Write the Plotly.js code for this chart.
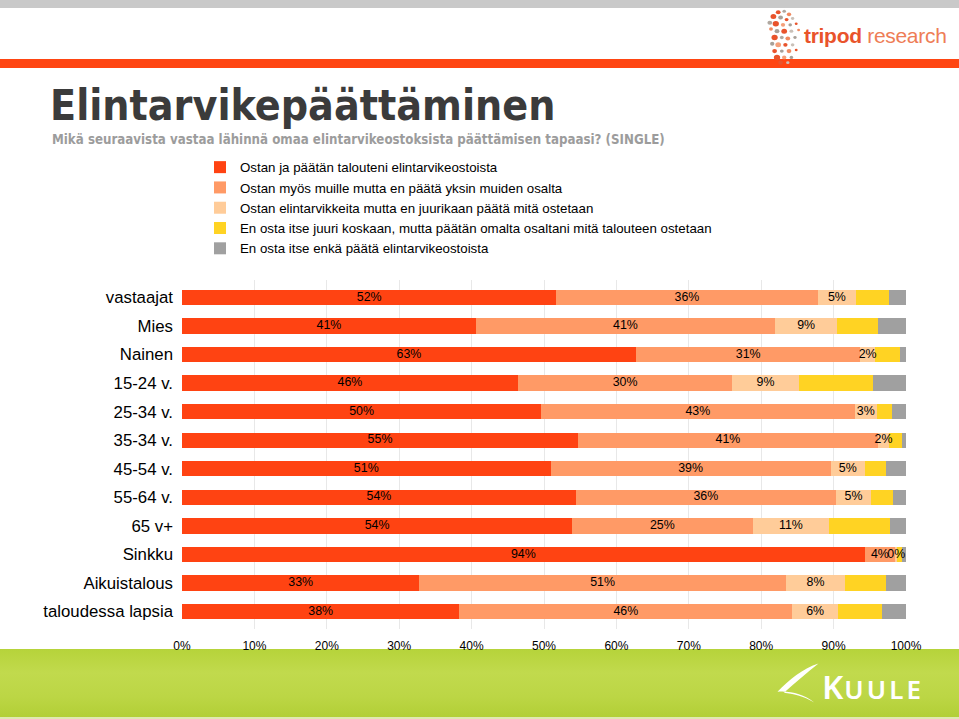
<!DOCTYPE html>
<html>
<head>
<meta charset="utf-8">
<script src="https://cdn.plot.ly/plotly-3.0.1.min.js"></script>
<style>
html,body{margin:0;padding:0;background:#fff;}
body{width:959px;height:719px;overflow:hidden;position:relative;font-family:"Liberation Sans",Arial,sans-serif;}
#topband{position:absolute;left:0;top:0;width:959px;height:8px;background:#c9c9c9;}
#redband{position:absolute;left:0;top:59px;width:959px;height:9px;background:#ff4512;}
#foot{position:absolute;left:0;top:649px;width:959px;height:68px;background:linear-gradient(to bottom,#b6d33a 0%,#c1da4d 35%,#bcd645 70%,#b2cf36 100%);}
#footline{position:absolute;left:0;top:717px;width:959px;height:2px;background:#dfe9b0;}
#tripod{position:absolute;left:804px;top:24px;font-size:21px;white-space:nowrap;letter-spacing:-0.3px;}
#tripod b{color:#e9532b;font-weight:bold;}
#tripod span{color:#ee7d56;}
#dots{position:absolute;left:762px;top:6px;}
#kuule{position:absolute;left:822px;top:664px;color:#fff;font-family:"Noto Sans",sans-serif;font-weight:600;white-space:nowrap;}
#kuule .k{font-size:33px;letter-spacing:1px;}
#kuule .r{font-size:26px;letter-spacing:3px;}
#swoosh{position:absolute;left:771px;top:657px;}
#chart{position:absolute;left:0;top:0;width:959px;height:719px;}
</style>
</head>
<body>
<div id="topband"></div>
<div id="redband"></div>
<svg id="dots" width="44" height="60" viewBox="0 0 44 58">
  <g transform="translate(-3,0) scale(1.2,1.05)">
    <circle cx="16" cy="5" r="2" fill="#e9532b"/>
    <circle cx="21" cy="4" r="1.5" fill="#b0a8a0"/>
    <circle cx="25" cy="7" r="1.8" fill="#f08a60"/>
    <circle cx="12" cy="9" r="2.4" fill="#e9532b"/>
    <circle cx="18" cy="10" r="2" fill="#a8a098"/>
    <circle cx="23" cy="12" r="1.6" fill="#e9532b"/>
    <circle cx="28" cy="11" r="1.4" fill="#c9c0b8"/>
    <circle cx="9" cy="15" r="2" fill="#b0a8a0"/>
    <circle cx="14" cy="16" r="2.6" fill="#e9532b"/>
    <circle cx="20" cy="17" r="1.8" fill="#f4a07a"/>
    <circle cx="26" cy="17" r="1.5" fill="#a8a098"/>
    <circle cx="31" cy="16" r="1.2" fill="#e9532b"/>
    <circle cx="10" cy="21" r="1.6" fill="#f08a60"/>
    <circle cx="15" cy="23" r="2" fill="#a8a098"/>
    <circle cx="21" cy="23" r="2.4" fill="#e9532b"/>
    <circle cx="27" cy="23" r="1.6" fill="#c9c0b8"/>
    <circle cx="33" cy="22" r="1.2" fill="#f08a60"/>
    <circle cx="13" cy="29" r="2.6" fill="#e9532b"/>
    <circle cx="19" cy="29" r="1.6" fill="#b0a8a0"/>
    <circle cx="24" cy="30" r="2" fill="#f08a60"/>
    <circle cx="30" cy="29" r="1.4" fill="#a8a098"/>
    <circle cx="11" cy="35" r="1.8" fill="#a8a098"/>
    <circle cx="16" cy="36" r="2.4" fill="#f4a07a"/>
    <circle cx="22" cy="36" r="1.8" fill="#e9532b"/>
    <circle cx="28" cy="36" r="1.5" fill="#c9c0b8"/>
    <circle cx="13" cy="42" r="2" fill="#e9532b"/>
    <circle cx="19" cy="42" r="1.6" fill="#a8a098"/>
    <circle cx="25" cy="42" r="2" fill="#f08a60"/>
    <circle cx="31" cy="41" r="1.2" fill="#e9532b"/>
    <circle cx="15" cy="48" r="2.6" fill="#e9532b"/>
    <circle cx="21" cy="48" r="1.8" fill="#f4a07a"/>
    <circle cx="27" cy="48" r="1.5" fill="#a8a098"/>
    <circle cx="18" cy="53" r="2" fill="#e9532b"/>
    <circle cx="24" cy="53" r="1.4" fill="#c9c0b8"/>
  </g>
</svg>
<div id="tripod"><b>tripod</b><span> research</span></div>
<div id="foot"></div>
<div id="footline"></div>
<svg id="swoosh" width="54" height="52" viewBox="0 0 50 48">
  <path d="M44 6 C30 10, 16 22, 6 32 C18 31, 30 34, 40 42 C30 36, 20 34, 12 33 C22 24, 34 14, 44 6 Z" fill="#ffffff"/>
</svg>
<div id="kuule"><span class="k">K</span><span class="r">UULE</span></div>
<div id="chart"></div>
<script>
var categories = ["vastaajat","Mies","Nainen","15-24 v.","25-34 v.","35-34 v.","45-54 v.","55-64 v.","65 v+","Sinkku","Aikuistalous","taloudessa lapsia"];
var seriesNames = [
  "Ostan ja päätän talouteni elintarvikeostoista",
  "Ostan myös muille mutta en päätä yksin muiden osalta",
  "Ostan elintarvikkeita mutta en juurikaan päätä mitä ostetaan",
  "En osta itse juuri koskaan, mutta päätän omalta osaltani mitä talouteen ostetaan",
  "En osta itse enkä päätä elintarvikeostoista"
];
var s1 = [51.7, 40.6, 62.7, 46.4, 49.6, 54.7, 50.9, 54.4, 53.9, 94.3, 32.8, 38.3];
var s2 = [36.1, 41.3, 31.0, 29.6, 43.3, 41.4, 38.7, 35.9, 24.9, 4.2, 50.6, 46.0];
var s3 = [5.3, 8.6, 2.0, 9.2, 3.1, 1.6, 4.7, 4.9, 10.6, 0.3, 8.2, 6.3];
var s4 = [4.6, 5.7, 3.5, 10.2, 2.1, 1.7, 3.0, 3.0, 8.4, 0.6, 5.7, 6.1];
var s5 = [2.3, 3.8, 0.8, 4.6, 1.9, 0.6, 2.7, 1.8, 2.2, 0.6, 2.7, 3.3];
var colors = ["#ff4312", "#ff9a66", "#ffcc99", "#ffd323", "#a0a0a0"];
var tickVals = [0,10,20,30,40,50,60,70,80,90,100];
var tickText = ["0%","10%","20%","30%","40%","50%","60%","70%","80%","90%","100%"];

var series = [s1, s2, s3, s4, s5];
var traces = [];
series.forEach(function(vals, i){
  traces.push({
    type: "bar", orientation: "h",
    x: vals, y: categories,
    name: seriesNames[i],
    marker: {color: colors[i], line: {width: 0}},
    hoverinfo: "name+x",
    textposition: "none"
  });
});
// data labels for the first three series, centred in each segment
var cum = categories.map(function(){return 0;});
series.forEach(function(vals, i){
  var mids = vals.map(function(v, j){ var m = cum[j] + v/2; cum[j] += v; return m; });
  if (i < 3) {
    traces.push({
      type: "scatter", mode: "text",
      x: mids, y: categories,
      text: vals.map(function(v){ return Math.round(v) + "%"; }),
      textposition: "middle center",
      textfont: {family: "Liberation Sans, Arial, sans-serif", size: 12.4, color: "#000"},
      showlegend: false, hoverinfo: "skip", cliponaxis: false
    });
  }
});

var layout = {
  width: 959, height: 719,
  margin: {l: 182, r: 53, t: 280, b: 90, pad: 0},
  paper_bgcolor: "rgba(0,0,0,0)",
  plot_bgcolor: "rgba(0,0,0,0)",
  barmode: "stack",
  bargap: 0.46,
  font: {family: "Liberation Sans, Arial, sans-serif", color: "#000"},
  title: {
    text: "Elintarvikepäättäminen",
    x: 50/959, xanchor: "left", xref: "container",
    y: 1 - 105/719, yanchor: "middle", yref: "container",
    font: {family: "DejaVu Sans Condensed, DejaVu Sans, sans-serif", size: 42.5, weight: "bold", color: "#3b3b3b"}
  },
  annotations: [{
    text: "Mikä seuraavista vastaa lähinnä omaa elintarvikeostoksista päättämisen tapaasi? (SINGLE)",
    xref: "paper", yref: "paper",
    x: (50-182)/724, xanchor: "left",
    y: (629-139.5)/349, yanchor: "middle",
    showarrow: false,
    font: {family: "DejaVu Sans Condensed, DejaVu Sans, sans-serif", size: 13.2, weight: "bold", color: "#9c9c9c"}
  }],
  xaxis: {
    range: [0, 100], tickvals: tickVals, ticktext: tickText,
    showgrid: true, gridcolor: "#e8e8e8", gridwidth: 1,
    zeroline: false, showline: false, ticks: "",
    tickfont: {size: 12, color: "#000"},
    ticklabelstandoff: 8,
    fixedrange: true
  },
  yaxis: {
    type: "category", categoryarray: categories, autorange: "reversed",
    showgrid: false, zeroline: false, showline: false, ticks: "",
    tickfont: {size: 16.8, color: "#000"},
    ticklabelstandoff: 8,
    fixedrange: true
  },
  showlegend: true,
  legend: {
    x: (200-182)/724, xanchor: "left",
    y: (629-152)/349, yanchor: "top",
    traceorder: "normal",
    font: {size: 13.3, color: "#000"},
    bgcolor: "rgba(0,0,0,0)",
    itemwidth: 30,
    itemclick: false, itemdoubleclick: false
  }
};
Plotly.newPlot("chart", traces, layout, {displayModeBar: false, staticPlot: false});
</script>
</body>
</html>
